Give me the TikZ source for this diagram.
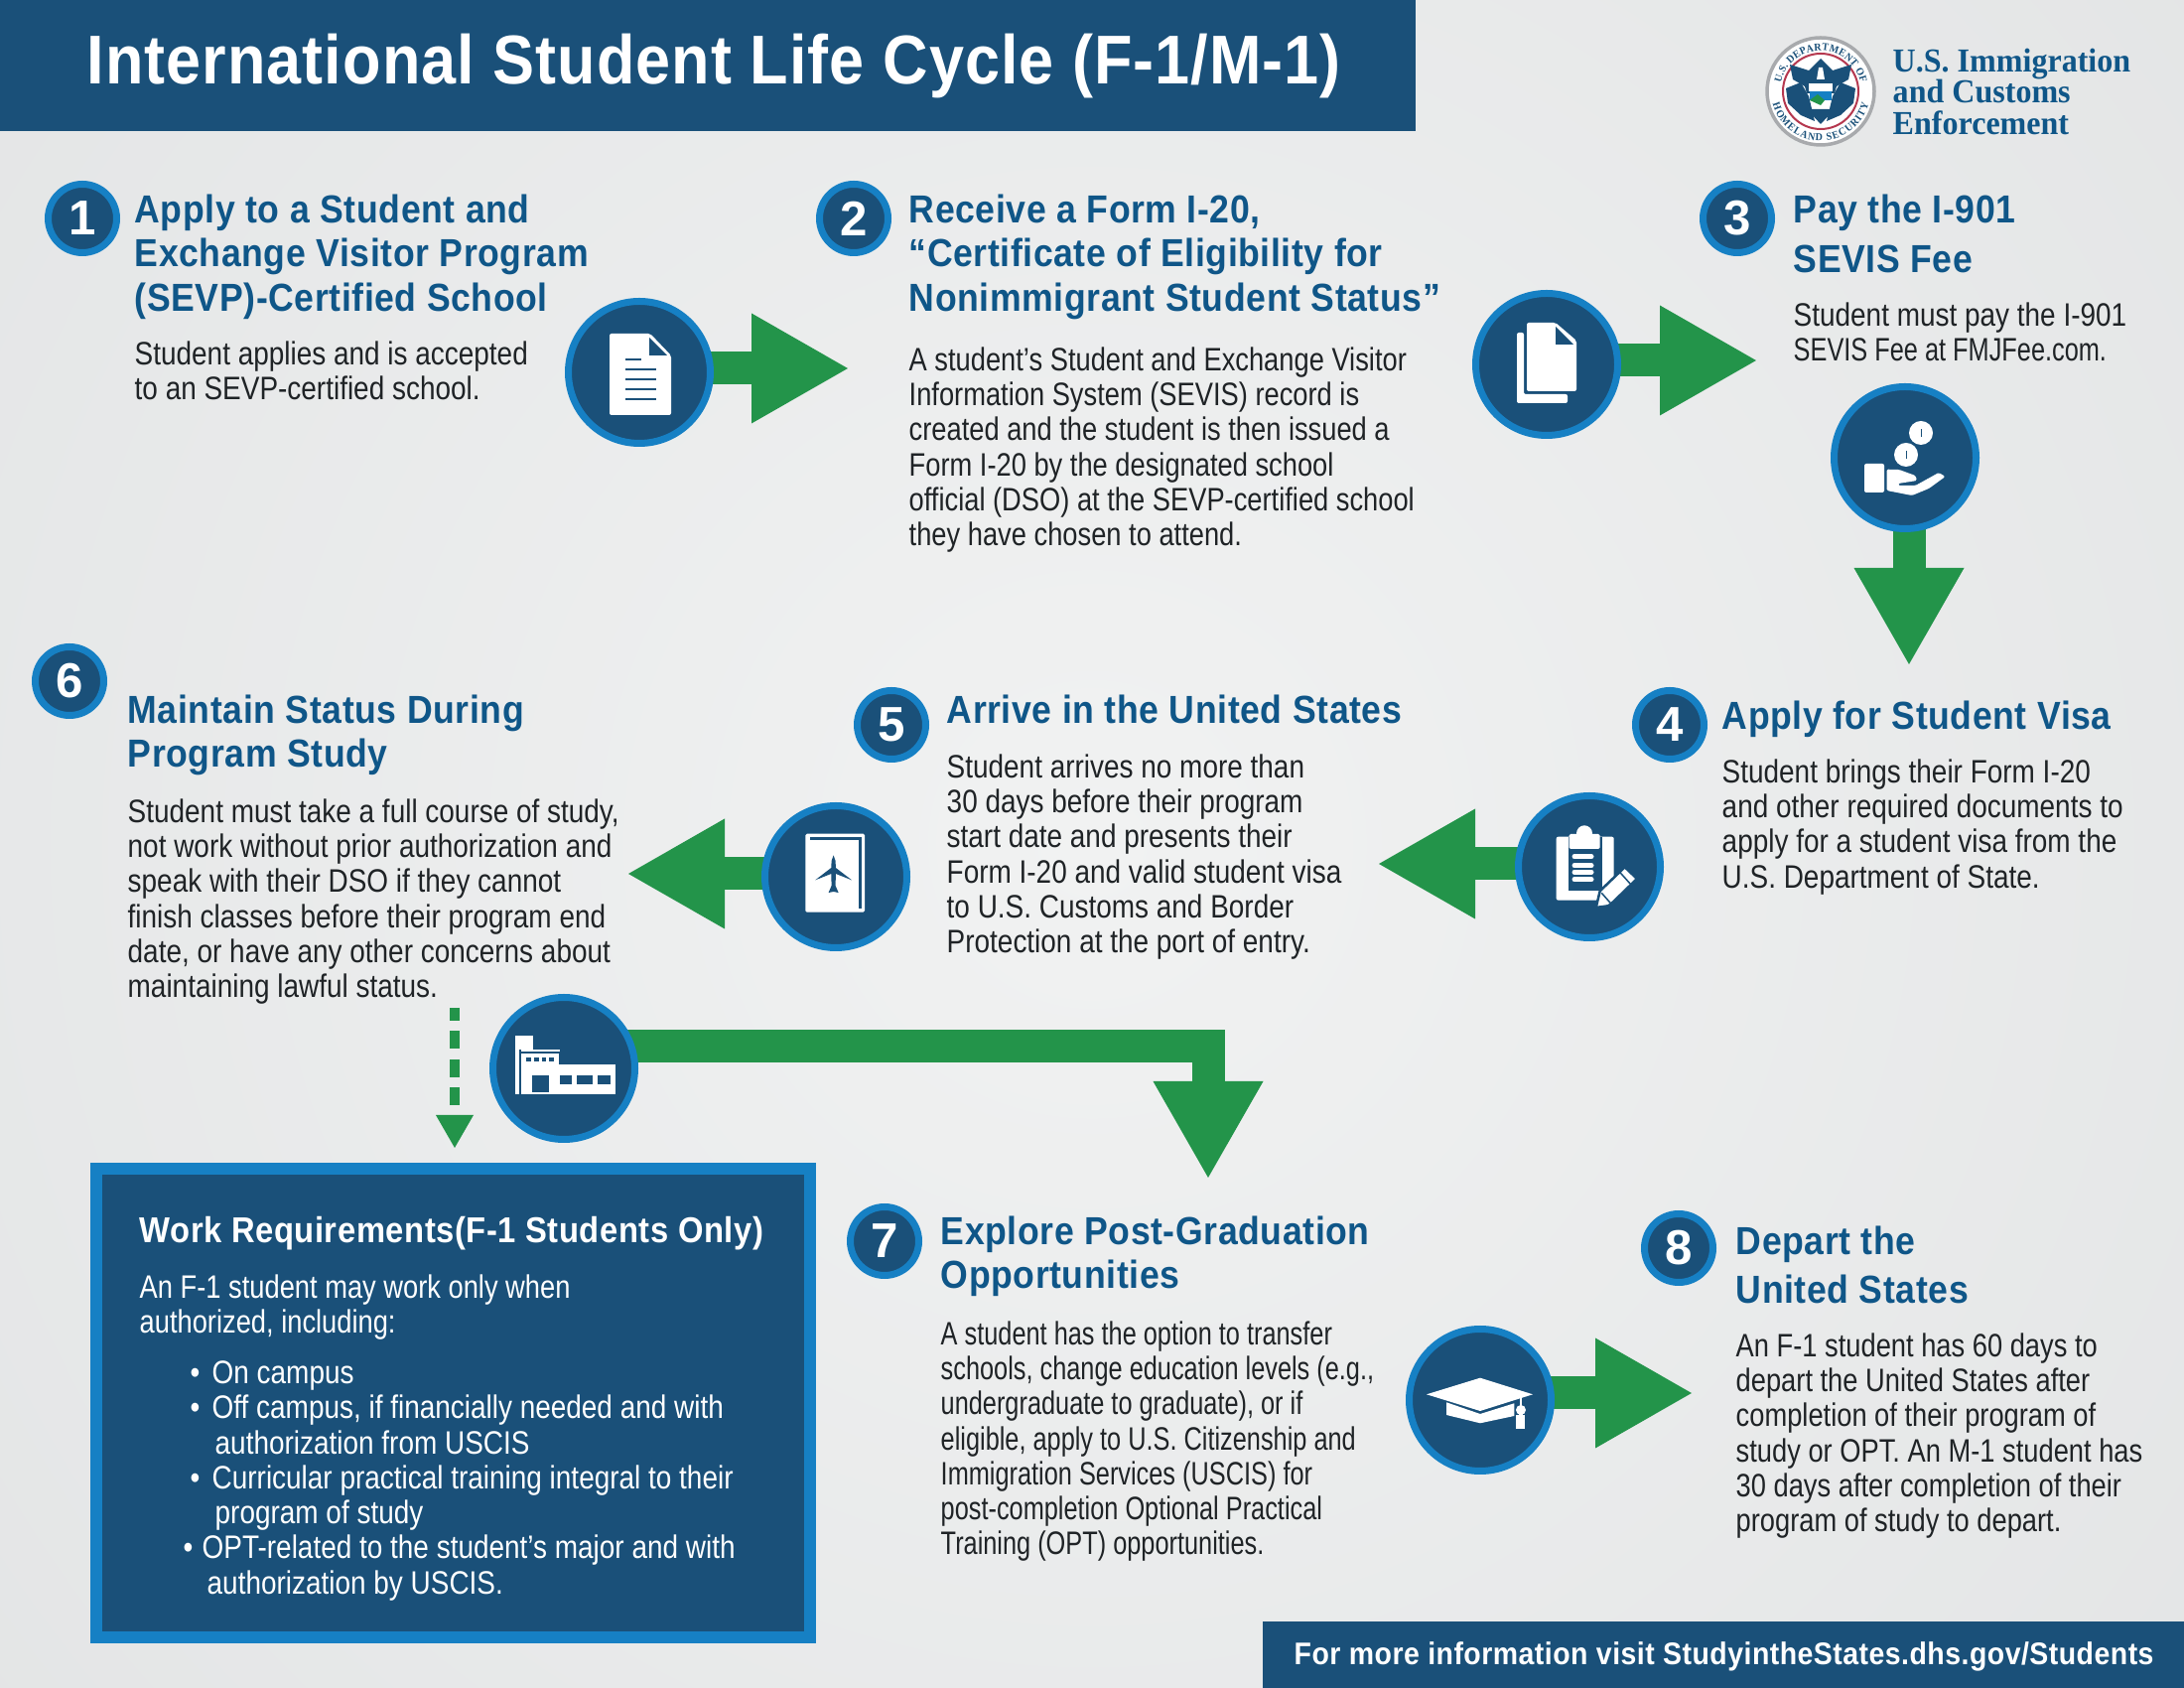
\documentclass[tikz,border=0pt]{standalone}
\usepackage{fontspec}
\usetikzlibrary{arrows.meta,backgrounds,decorations.text}

\setmainfont{Liberation Sans}
\newfontfamily\bodyfont[FakeStretch=0.855]{Liberation Sans}
\newfontfamily\bodyfontb[FakeStretch=0.835]{Liberation Sans}
\newfontfamily\bodyfontc[FakeStretch=0.775]{Liberation Sans}
\newfontfamily\headfont[LetterSpace=1.5,FakeStretch=0.905]{Liberation Sans}
\newfontfamily\logofont[FakeStretch=0.95]{Liberation Serif}

\definecolor{navy}{HTML}{1A5079}
\definecolor{ring}{HTML}{1680C4}
\definecolor{arrowgreen}{HTML}{23944A}
\definecolor{headblue}{HTML}{0F5688}
\definecolor{bodyink}{HTML}{1F2326}
\definecolor{bgin}{HTML}{F1F2F2}
\definecolor{bgout}{HTML}{DDDFE0}
\definecolor{sealred}{HTML}{B5384F}
\definecolor{sealgrey}{HTML}{A8AAAD}

\tikzset{
	headtxt/.style={anchor=north west,inner sep=0,align=left,text=headblue,
		font=\headfont\bfseries\fontsize{11.2}{12.65}\selectfont,execute at begin node=\strut},
	bodytxt/.style={anchor=north west,inner sep=0,align=left,text=bodyink,
		font=\bodyfont\fontsize{9.3}{10.03}\selectfont,execute at begin node=\strut},
	boxtxt/.style={bodytxt,text=white},
	iconring/.style={circle,fill=navy,draw=ring,line width=0.7mm,minimum size=14.3mm,inner sep=0},
	badge/.style={circle,fill=navy,draw=ring,line width=0.7mm,minimum size=6.9mm,inner sep=0,
		text=white,font=\bfseries\fontsize{14}{14}\selectfont},
	flow/.style={draw=arrowgreen,line width=3.3mm,-{Triangle[length=9.7mm,width=11.1mm,fill=arrowgreen,line width=0pt]}},
	dashflow/.style={draw=arrowgreen,line width=1mm,dash pattern=on 1.8mm off 1.05mm,dash phase=0.5mm,
		-{Triangle[length=3.3mm,width=3.8mm,fill=arrowgreen,line width=0pt]}},
	ink/.style={fill=white,draw=none},
	cut/.style={fill=navy,draw=none},
}

\begin{document}
\begin{tikzpicture}[x=0.1mm,y=-0.1mm]
	\useasboundingbox (0,0) rectangle (2200,1700);
	\begin{scope}[on background layer]
		\clip (0,0) rectangle (2200,1700);
		\shade[inner color=bgin,outer color=bgout] (1100,850) circle (2100);
	\end{scope}

	% banner and footer
	\node[fill=navy,anchor=north west,outer sep=0,minimum width=142.6mm,minimum height=13.2mm,inner sep=0] (banner) at (0,0) {};
	\node[anchor=west,inner sep=0,text=white,font=\headfont\bfseries\fontsize{19.8}{21}\selectfont] (title) at (87,67) {International Student Life Cycle (F-1/M-1)};
	\node[fill=navy,anchor=north west,outer sep=0,minimum width=92.8mm,minimum height=6.7mm,inner sep=0] (footer) at (1272,1633) {};
	\node[anchor=west,inner sep=0,text=white,font=\headfont\bfseries\fontsize{8.95}{11}\selectfont] (footertxt) at (1303,1668) {For more information visit StudyintheStates.dhs.gov/Students};

	% seal
	\coordinate (seal) at (1834,92);
	\begin{scope}[shift={(seal)},x=0.1mm,y=0.1mm]
		\fill[white] (0,0) circle (55);
		\draw[sealgrey,line width=0.35mm] (0,0) circle (54);
		\draw[sealred,line width=0.2mm] (0,0) circle (38);
		\fill[navy] (-31,27) -- (-12,21) -- (0,33) -- (12,21) -- (31,27) -- (28,12) -- (16,5) -- (14,-2) -- (-14,-2) -- (-16,5) -- (-28,12) -- cycle;
		\fill[navy] (-35,3) -- (-20,9) -- (-12,-5) -- (-6,-30) -- (-20,-24) -- (-33,-12) -- cycle;
		\fill[navy] (35,3) -- (20,9) -- (12,-5) -- (6,-30) -- (20,-24) -- (33,-12) -- cycle;
		\fill[navy] (-14,-18) -- (0,-33) -- (14,-18) -- cycle;
		\fill[white] (-12,8) rectangle (12,0);
		\fill[white] (-2,24) -- (2,24) -- (4,12) -- (-4,12) -- cycle;
		\fill[ring] (-11,0) rectangle (11,-9);
		\fill[arrowgreen] (-11,-9) -- (-3,-3) -- (4,-9) -- (0,-14) -- cycle;
		\path[decorate,decoration={text along path,text align={fit to path},
			text={|\logofont\bfseries\fontsize{3}{3}\selectfont\color{navy}|U.S. DEPARTMENT OF}}]
			(168:41) arc[start angle=168,end angle=12,radius=41];
		\path[decorate,decoration={text along path,text align={fit to path},
			text={|\logofont\bfseries\fontsize{3}{3}\selectfont\color{navy}|HOMELAND SECURITY}}]
			(195:50) arc[start angle=195,end angle=345,radius=50];
	\end{scope}
	\node[anchor=north west,inner sep=0,align=left,text=headblue,font=\logofont\bfseries\fontsize{9.6}{8.95}\selectfont,execute at begin node=\strut] (logotxt) at (1906,48) {U.S. Immigration\\and Customs\\Enforcement};

	% number badges
	\node[badge] (num1) at (83,220) {1};
	\node[badge] (num2) at (860,220) {2};
	\node[badge] (num3) at (1750,220) {3};
	\node[badge] (num4) at (1682,730) {4};
	\node[badge] (num5) at (898,730) {5};
	\node[badge] (num6) at (70,686) {6};
	\node[badge] (num7) at (891,1250) {7};
	\node[badge] (num8) at (1691,1257) {8};

	% steps
	\node[headtxt] (head1) at (135,195) {Apply to a Student and\\Exchange Visitor Program\\(SEVP)-Certified School};
	\node[bodytxt] (body1) at (135,343) {Student applies and is accepted\\to an SEVP-certified school.};

	\node[headtxt] (head2) at (915,195) {Receive a Form I-20,\\“Certificate of Eligibility for\\Nonimmigrant Student Status”};
	\node[bodytxt,font=\bodyfontb\fontsize{9.3}{10.03}\selectfont] (body2) at (915,349) {A student’s Student and Exchange Visitor\\Information System (SEVIS) record is\\created and the student is then issued a\\Form I-20 by the designated school\\official (DSO) at the SEVP-certified school\\they have chosen to attend.};

	\node[headtxt] (head3a) at (1806,193) {Pay the I-901};
	\node[headtxt] (head3b) at (1806,243) {SEVIS Fee};
	\node[bodytxt] (body3) at (1806,304) {Student must pay the I-901\\{\bodyfontc SEVIS Fee at FMJFee.com.}};

	\node[headtxt] (head4) at (1734,703) {Apply for Student Visa};
	\node[bodytxt] (body4) at (1734,764) {Student brings their Form I-20\\and other required documents to\\apply for a student visa from the\\U.S. Department of State.};

	\node[headtxt] (head5) at (953,697) {Arrive in the United States};
	\node[bodytxt] (body5) at (953,759) {Student arrives no more than\\30 days before their program\\start date and presents their\\Form I-20 and valid student visa\\to U.S. Customs and Border\\Protection at the port of entry.};

	\node[headtxt] (head6) at (128,699) {Maintain Status During\\Program Study};
	\node[bodytxt] (body6) at (128,804) {Student must take a full course of study,\\not work without prior authorization and\\speak with their DSO if they cannot\\finish classes before their program end\\date, or have any other concerns about\\maintaining lawful status.};

	\node[headtxt] (head7) at (947,1224) {Explore Post-Graduation\\Opportunities};
	\node[bodytxt,font=\bodyfontc\fontsize{9.3}{10.03}\selectfont] (body7) at (947,1330) {A student has the option to transfer\\schools, change education levels (e.g.,\\undergraduate to graduate), or if\\eligible, apply to U.S. Citizenship and\\Immigration Services (USCIS) for\\post-completion Optional Practical\\Training (OPT) opportunities.};

	\node[headtxt] (head8a) at (1748,1232) {Depart the};
	\node[headtxt] (head8b) at (1748,1281) {United States};
	\node[bodytxt,font=\bodyfontb\fontsize{9.3}{10.03}\selectfont] (body8) at (1748,1342) {An F-1 student has 60 days to\\depart the United States after\\completion of their program of\\study or OPT. An M-1 student has\\30 days after completion of their\\program of study to depart.};

	% work box
	\node[fill=navy,draw=ring,line width=1.2mm,anchor=north west,minimum width=71.9mm,minimum height=47.2mm,inner sep=0] (workbox) at (91,1171) {};
	\node[headtxt,text=white,font=\headfont\bfseries\fontsize{10.3}{12.65}\selectfont] (worktitle) at (140,1220) {Work Requirements(F-1 Students Only)};
	\node[boxtxt,font=\bodyfontb\fontsize{9.3}{10.03}\selectfont] (worklead) at (140,1283) {An F-1 student may work only when\\authorized, including:};
	\node[boxtxt] (worklist) at (184,1370) {%
		\hspace*{0.7mm}\makebox[2.2mm][l]{•}On campus\\
		\hspace*{0.7mm}\makebox[2.2mm][l]{•}Off campus, if financially needed and with\\
		\hspace*{3.2mm}authorization from USCIS\\
		\hspace*{0.7mm}\makebox[2.2mm][l]{•}Curricular practical training integral to their\\
		\hspace*{3.2mm}program of study\\
		\makebox[1.9mm][l]{•}OPT-related to the student’s major and with\\
		\hspace*{2.4mm}authorization by USCIS.};

	% icon circles
	\node[iconring] (icon1) at (644,375) {};
	\node[iconring] (icon2) at (1558,367) {};
	\node[iconring] (icon3) at (1919,461) {};
	\node[iconring] (icon4) at (1601,873) {};
	\node[iconring] (icon5) at (842,883) {};
	\node[iconring] (icon6) at (568,1076) {};
	\node[iconring] (icon7) at (1491,1410) {};

	% arrows
	\coordinate (tip1) at (854,371);
	\coordinate (tip2) at (1769,363);
	\coordinate (tip3) at (1923,669);
	\coordinate (tip4) at (1389,870);
	\coordinate (tip5) at (633,880);
	\coordinate (tip6) at (1217,1186);
	\coordinate (tip7) at (1704,1403);
	\coordinate (bend6) at (1217,1053.5);
	\coordinate (dashtop) at (458,1015);
	\coordinate (dashtip) at (458,1156);
	\begin{scope}[on background layer]
		\draw[flow] (tip1 -| icon1.center) -- (tip1);
		\draw[flow] (tip2 -| icon2.center) -- (tip2);
		\draw[flow] (tip3 |- icon3.center) -- (tip3);
		\draw[flow] (tip4 -| icon4.center) -- (tip4);
		\draw[flow] (tip5 -| icon5.center) -- (tip5);
		\draw[flow] (bend6 -| icon6.center) -- (bend6) -- (tip6);
		\draw[flow] (tip7 -| icon7.center) -- (tip7);
		\draw[dashflow] (dashtop) -- (dashtip);
	\end{scope}

	% document
	\begin{scope}[shift={(icon1)}]
		\fill[ink,rounded corners=0.2mm] (-30,-39) -- (11,-39) -- (32,-17) -- (32,43) -- (-30,43) -- cycle;
		\fill[cut] (10,-35) -- (10,-17) -- (28,-17) -- cycle;
		\draw[navy,line width=0.12mm] (-14,-13) -- (2,-13);
		\foreach \ly in {-3,7,17,27} \draw[navy,line width=0.12mm] (-14,\ly) -- (17,\ly);
	\end{scope}

	% form copies
	\begin{scope}[shift={(icon2)}]
		\fill[ink,rounded corners=0.2mm] (-30,-32) -- (-23,-32) -- (-23,30) -- (21,30) -- (21,39) -- (-30,39) -- cycle;
		\fill[ink,rounded corners=0.2mm] (-20,-42) -- (9,-42) -- (30,-24) -- (30,27) -- (-20,27) -- cycle;
		\fill[cut] (9,-38) -- (9,-20) -- (27,-20) -- cycle;
	\end{scope}

	% coins over hand
	\begin{scope}[shift={(icon3)}]
		\fill[ink] (16,-25) circle (12);
		\fill[ink] (1,-3) circle (12);
		\fill[cut] (15.5,-29) rectangle (17,-21);
		\fill[cut] (0.5,-7) rectangle (2,1);
		\fill[ink,rounded corners=0.2mm] (-41,6) rectangle (-21,35);
		\fill[ink,rounded corners=0.15mm] (-18.5,11.7) -- (-6,12) -- (10.5,18) -- (12,23) -- (-7,26) -- (-7,28) -- (10.5,28) -- (34,15) -- (40.5,19) -- (24,31) -- (7,38) -- (-18.5,33) -- cycle;
	\end{scope}

	% clipboard and pencil
	\begin{scope}[shift={(icon4)}]
		\fill[ink,rounded corners=0.2mm] (-33.3,-30.3) rectangle (24.7,33.7);
		\fill[cut] (-21,-30.3) rectangle (13,23.7);
		\fill[ink] (-5,-33.7) circle (8);
		\fill[ink,rounded corners=0.15mm] (-20.3,-33) rectangle (10.7,-18);
		\foreach \ly in {-10.3,-1.3,5.3,12.7} \draw[white,line width=0.5mm,line cap=round] (-15,\ly) -- (2,\ly);
		\fill[ink,draw=navy,line width=0.25mm] (6.7,41) -- (10.7,24.3) -- (35.7,0.3) -- (48,12) -- (24,35.3) -- (19,39.3) -- cycle;
		\draw[navy,line width=0.15mm] (29.7,4.3) -- (41.7,17.7);
		\draw[navy,line width=0.15mm] (12.3,26.3) -- (21.7,37);
	\end{scope}

	% passport
	\begin{scope}[shift={(icon5)}]
		\fill[ink,rounded corners=0.15mm] (-30.7,-43.3) rectangle (29,35.7);
		\draw[navy,line width=0.25mm] (-25.7,-38.3) -- (24.3,-38.3) -- (24.3,31.7);
		\fill[cut,shift={(-2.4,0)}] (0,-21.6) -- (2,-16) -- (2.3,-9) -- (18.5,3.4) -- (2.3,-3) -- (2,9) -- (5,16) -- (0,15) -- (-5,16) -- (-2,9) -- (-2.3,-3) -- (-18.5,3.4) -- (-2.3,-9) -- (-2,-16) -- cycle;
	\end{scope}

	% school building
	\begin{scope}[shift={(icon6)}]
		\fill[ink] (-49,-33) rectangle (-30.7,-19.3);
		\fill[ink] (-49,-19.3) rectangle (-45.3,26.3);
		\fill[ink] (-43,-19) rectangle (-4,-17);
		\fill[ink] (-42.7,-15) rectangle (-4.7,26.3);
		\fill[ink] (-4.7,-3.7) rectangle (52,26.3);
		\foreach \wx in {-38,-30,-22.3,-14.7} \fill[cut] (\wx,-11) rectangle ++(4.5,4);
		\fill[cut] (-32,6.7) rectangle (-14.7,24);
		\fill[cut] (-4,7.3) rectangle (8,16.3);
		\fill[cut] (13,7.3) rectangle (29.3,16.3);
		\fill[cut] (34.3,7.3) rectangle (47,16.3);
	\end{scope}

	% graduation cap
	\begin{scope}[shift={(icon7)}]
		\fill[ink] (-34,2.3) -- (0,14) -- (34.3,3.3) -- (34.3,16) -- (0,23.3) -- (-34,15) -- cycle;
		\fill[ink] (-54,-5.7) -- (0,-22.3) -- (53,-5.7) -- (0,11) -- cycle;
		\draw[white,line width=0.15mm] (41,-3) -- (41,10);
		\fill[ink] (41,10) circle (5);
		\fill[ink] (36.3,15) -- (45.3,15) -- (45.3,29) -- (36.3,29) -- cycle;
		\fill[ink] (39,10) rectangle (43,16);
	\end{scope}
\end{tikzpicture}
\end{document}
